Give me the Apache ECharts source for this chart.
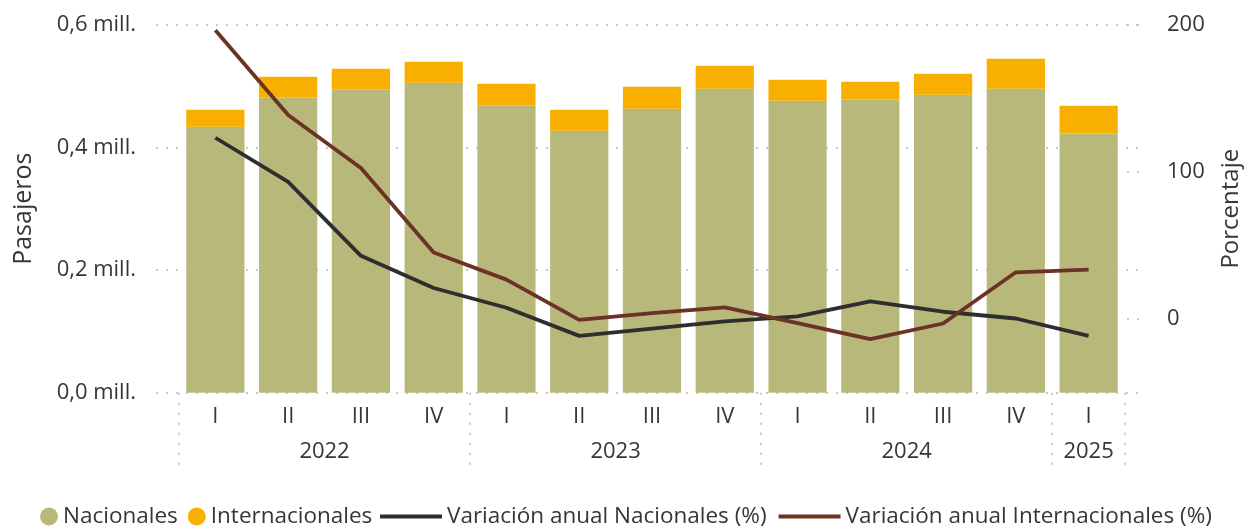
<!DOCTYPE html>
<html>
<head>
<meta charset="utf-8">
<title>Pasajeros</title>
<script src="https://cdn.jsdelivr.net/npm/echarts@6/dist/echarts.min.js"></script>
<style>
  html, body { margin: 0; padding: 0; background: #fff; }
  #chart { width: 1246px; height: 528px; }
</style>
</head>
<body>
<div id="chart"></div>
<script>
// quarters and year groups
const quarters = ['I', 'II', 'III', 'IV', 'I', 'II', 'III', 'IV', 'I', 'II', 'III', 'IV', 'I'];
const years = ['2022', '2023', '2024', '2025'];
const yearCenters = [2, 6, 10, 12.5];

// passengers
const nacionales = [433600, 481400, 494500, 505400, 468300, 427000, 463000, 495600, 476000, 478100, 485800, 495600, 422600];
const internacionales = [27700, 33800, 33700, 34300, 35500, 34300, 35800, 37500, 34300, 29000, 34300, 49000, 45300];

// yearly change, %
const varNacionales = [123.2, 93.2, 43.0, 21.1, 7.7, -11.4, -6.4, -1.6, 1.8, 12.0, 5.0, 0.4, -11.4];
const varInternacionales = [196.2, 138.7, 102.7, 45.2, 26.8, -0.5, 4.1, 7.9, -2.7, -13.6, -3.0, 31.8, 33.6];

const FONT = 'Open Sans';
const TXT = '#363636';
const DOTS = { color: '#c8c8c8', width: 2, type: [2, 8] };
const lbl = (extra) => Object.assign({ fontFamily: FONT, fontSize: 22, color: TXT }, extra);

const chart = echarts.init(document.getElementById('chart'));
chart.setOption({
  animation: false,
  textStyle: { fontFamily: FONT },
  grid: [
    { left: 179, right: 121, top: 24.7, bottom: 135.3, outerBoundsMode: 'none', containLabel: false },
    { left: 156, right: 106, top: 24.7, bottom: 135.3, outerBoundsMode: 'none', containLabel: false },
    { left: 1127, right: 99, top: 24.7, bottom: 209.7, outerBoundsMode: 'none', containLabel: false }
  ],
  legend: [
    {
      left: 40, top: 505, padding: 0, itemGap: 10, itemWidth: 18, itemHeight: 18, icon: 'circle',
      textStyle: lbl({ fontSize: 22.5 }),
      data: ['Nacionales', 'Internacionales']
    },
    {
      left: 380, top: 505, padding: 0, itemGap: 12, itemWidth: 62, itemHeight: 4, icon: 'rect',
      textStyle: lbl({ fontSize: 22.5 }),
      data: ['Variación anual Nacionales (%)', 'Variación anual Internacionales (%)']
    }
  ],
  xAxis: [
    {
      type: 'category', gridIndex: 0, data: quarters,
      axisLine: { show: false },
      axisTick: { show: true, interval: i => i % 4 === 0, length: 77, lineStyle: DOTS },
      axisLabel: lbl({ margin: 13, interval: 0 })
    },
    {
      type: 'value', gridIndex: 0, min: 0, max: 13, position: 'bottom',
      axisLine: { show: false }, splitLine: { show: false }, axisTick: { show: false },
      axisLabel: lbl({
        customValues: yearCenters, margin: 48,
        formatter: v => years[yearCenters.indexOf(v)] || ''
      })
    },
    { type: 'value', gridIndex: 1, min: 0, max: 1, show: false },
    { type: 'value', gridIndex: 2, min: 0, max: 1, show: false }
  ],
  yAxis: [
    {
      type: 'value', gridIndex: 0, min: 0, max: 600000, interval: 200000,
      name: 'Pasajeros', nameLocation: 'middle', nameGap: 143,
      nameTextStyle: lbl({ fontSize: 25 }),
      axisLine: { show: false }, axisTick: { show: false }, splitLine: { show: false },
      axisLabel: lbl({
        margin: 43,
        formatter: v => (v / 1e6).toFixed(1).replace('.', ',') + ' mill.'
      })
    },
    {
      type: 'value', gridIndex: 0, min: -50, max: 200, interval: 50, position: 'right',
      name: 'Porcentaje', nameLocation: 'middle', nameGap: 94, nameRotate: 90,
      nameTextStyle: lbl({ fontSize: 24 }),
      axisLine: { show: false }, axisTick: { show: false }, splitLine: { show: false },
      axisLabel: lbl({
        margin: 42,
        formatter: v => (v % 100 === 0 ? String(v) : '')
      })
    },
    {
      type: 'value', gridIndex: 1, min: 0, max: 600000, interval: 200000,
      axisLine: { show: false }, axisTick: { show: false }, axisLabel: { show: false },
      splitLine: { show: true, lineStyle: DOTS }
    },
    {
      type: 'value', gridIndex: 2, min: 0, max: 200, interval: 100,
      axisLine: { show: false }, axisTick: { show: false }, axisLabel: { show: false },
      splitLine: { show: true, lineStyle: DOTS }
    }
  ],
  series: [
    {
      name: 'Nacionales', type: 'bar', stack: 'pax', xAxisIndex: 0, yAxisIndex: 0,
      barCategoryGap: '20%', itemStyle: { color: '#b8b87a' }, data: nacionales
    },
    {
      name: 'Internacionales', type: 'bar', stack: 'pax', xAxisIndex: 0, yAxisIndex: 0,
      barCategoryGap: '20%', itemStyle: { color: '#f9af00' }, data: internacionales
    },
    {
      name: 'Variación anual Nacionales (%)', type: 'line', xAxisIndex: 0, yAxisIndex: 1,
      symbol: 'none', lineStyle: { color: '#2e2e2e', width: 3.8 }, itemStyle: { color: '#2e2e2e' },
      data: varNacionales, z: 5
    },
    {
      name: 'Variación anual Internacionales (%)', type: 'line', xAxisIndex: 0, yAxisIndex: 1,
      symbol: 'none', lineStyle: { color: '#6b3226', width: 3.8 }, itemStyle: { color: '#6b3226' },
      data: varInternacionales, z: 5
    }
  ]
});
</script>
</body>
</html>
